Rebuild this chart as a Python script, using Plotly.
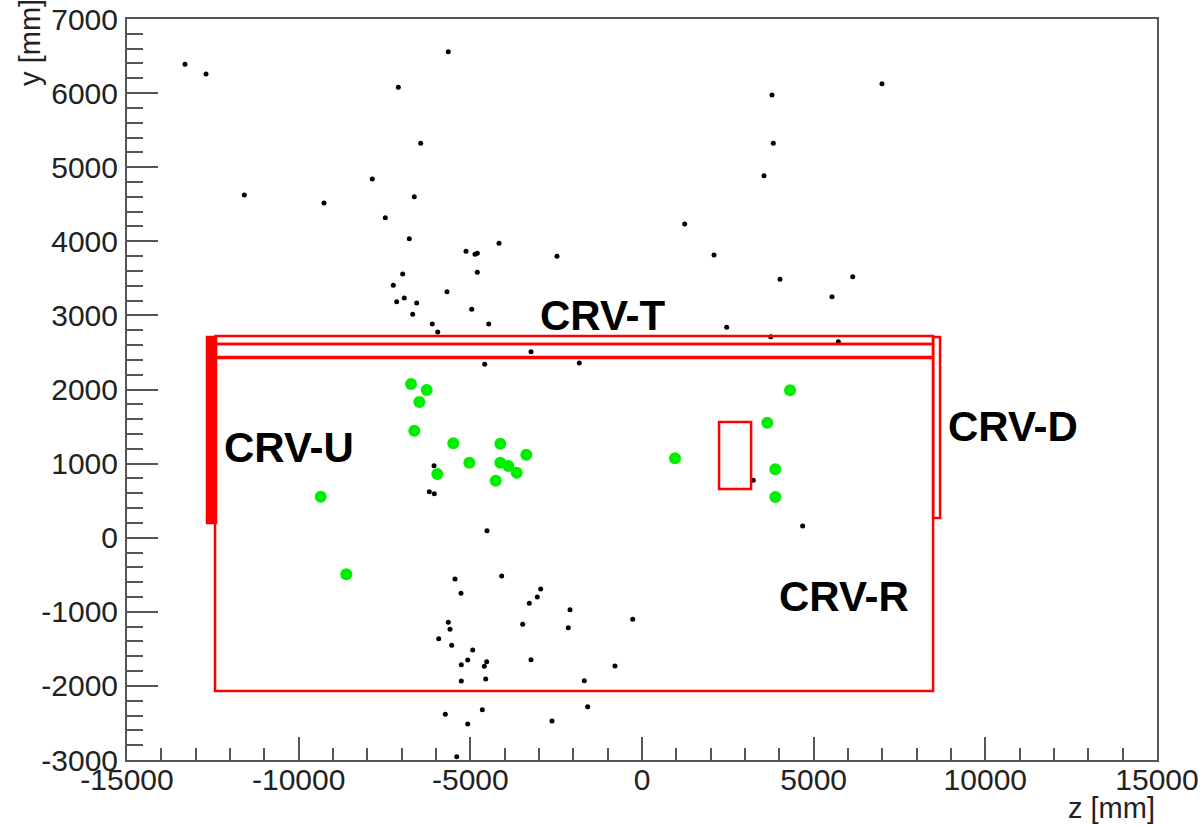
import plotly.graph_objects as go

# Black points: other hits (z, y) in mm
black_z = [-13311, -12699, -5642, -7098, -6446, -11583, -9262, -7855, -6632, -7477,
           -6778, -5126, -4864, -4797, -6970, -4797, 6990, 3786, 3824, 3553,
           1244, 2097, -4165, -2476, 4019, 6137, -7244, -7145, -6923, -6562,
           -6679, -5680, -4960, -6108, -5950, -4465, -4582, -6058, -6195, -6050,
           -4515, 5534, 2467, 3748, 5718, -3233, -1826, 3242, 4680,
           -5447, -5272, -5642, -5592, -5921, -5543, -4931, -5077, -5263, -4523,
           -4593, -5263, -4552, -5729, -4651, -5077, -5397, -4086, -2951, -3049,
           -3283, -2097, -3475, -2147, -271, -3233, -787, -1681, -1582, -2621]
black_y = [6389, 6258, 6559, 6078, 5323, 4625, 4517, 4841, 4602, 4319,
           4035, 3865, 3825, 3838, 3559, 3582, 6127, 5974, 5323, 4885,
           4234, 3815, 3973, 3798, 3487, 3522, 3406, 3185, 3235, 3167,
           3015, 3320, 3082, 2884, 2776, 2884, 2340, 972, 621, 594,
           95, 3252, 2839, 2713, 2645, 2510, 2358, 775, 158,
           -557, -750, -1142, -1236, -1363, -1452, -1515, -1650, -1714, -1673,
           -1735, -1934, -1907, -2383, -2321, -2514, -2955, -517, -692, -800,
           -885, -972, -1169, -1214, -1101, -1646, -1731, -1930, -2280, -2473]

# Green points: selected hits (z, y) in mm
green_z = [-6728, -6271, -6486, -6632, -5496, -5030, -5962, -9358, -8613, -4127,
           -3370, -4127, -3894, -3650, -4261, 961, 4311, 3649, 3883, 3883]
green_y = [2074, 1993, 1831, 1444, 1274, 1012, 860, 553, -494, 1269,
           1120, 1012, 968, 877, 769, 1072, 1989, 1552, 923, 549]

# Detector outlines: (z0, z1, y0, y1, filled)
sector_names = ["CRV-R", "CRV-T lower", "CRV-T upper", "CRV-U", "CRV-D", "box"]
sector_z0 = [-12437, -12420, -12420, -12670, 8478, 2244]
sector_z1 = [8478, 8478, 8478, -12408, 8682, 3177]
sector_y0 = [-2069, 2440, 2614, 198, 266, 657]
sector_y1 = [2425, 2614, 2722, 2709, 2709, 1561]
sector_fill = [False, False, False, True, False, False]

# Labels
label_text = ["CRV-T", "CRV-U", "CRV-D", "CRV-R"]
label_z = [-1149, -10281, 10794, 5871]
label_y = [2999, 1224, 1507, -787]

# Tick labels
x_ticks = [-15000, -10000, -5000, 0, 5000, 10000, 15000]
x_ticktext = ["-15000", "-10000", "-5000", "0", "5000", "10000", "15000"]
y_ticks = [-3000, -2000, -1000, 0, 1000, 2000, 3000, 4000, 5000, 6000, 7000]
y_ticktext = ["-3000", "-2000", "-1000", "0", "1000", "2000", "3000", "4000", "5000", "6000", "7000"]

fig = go.Figure()
fig.add_trace(go.Scatter(x=black_z, y=black_y, mode="markers",
                         marker=dict(color="black", size=5), showlegend=False))
fig.add_trace(go.Scatter(x=green_z, y=green_y, mode="markers",
                         marker=dict(color="#00ee00", size=12), showlegend=False))

for z0, z1, y0, y1, f in zip(sector_z0, sector_z1, sector_y0, sector_y1, sector_fill):
    fig.add_shape(type="rect", xref="x", yref="y", x0=z0, x1=z1, y0=y0, y1=y1,
                  line=dict(color="red", width=2.5),
                  fillcolor="red" if f else "rgba(0,0,0,0)")

for t, zx, yy in zip(label_text, label_z, label_y):
    fig.add_annotation(x=zx, y=yy, xref="x", yref="y", text="<b>%s</b>" % t,
                       showarrow=False, font=dict(family="Liberation Sans", size=42, color="black"))

axis_common = dict(showgrid=False, zeroline=False, showline=True, linecolor="#555555",
                   linewidth=2, mirror=True, ticks="inside", tickcolor="#555555", tickwidth=2,
                   automargin=False,
                   tickfont=dict(family="Liberation Sans", size=30, color="#222222"))

fig.update_xaxes(range=[-15000, 15000], tickvals=x_ticks, ticktext=x_ticktext, ticklen=23,
                 minor=dict(dtick=1000, tick0=0, ticks="inside", ticklen=12, tickcolor="#555555", tickwidth=2),
                 ticklabelstandoff=-8, **axis_common)
fig.update_yaxes(range=[-3000, 7000], tickvals=y_ticks, ticktext=y_ticktext, ticklen=31,
                 minor=dict(dtick=200, tick0=0, ticks="inside", ticklen=16, tickcolor="#555555", tickwidth=2),
                 ticklabelstandoff=1, **axis_common)

fig.add_annotation(text="z [mm]", xref="paper", yref="paper", x=1.0, y=-0.065,
                   xanchor="right", yanchor="middle", showarrow=False,
                   font=dict(family="Liberation Sans", size=29, color="#222222"))
fig.add_annotation(text="y [mm]", xref="paper", yref="paper", x=-0.094, y=0.968,
                   xanchor="center", yanchor="middle", textangle=-90, showarrow=False,
                   font=dict(family="Liberation Sans", size=29, color="#222222"))

fig.update_layout(width=1203, height=825, margin=dict(l=127, r=46, t=19, b=65, autoexpand=False),
                  plot_bgcolor="white", paper_bgcolor="white")

fig.write_html("out.html", config={"displayModeBar": False},
               post_script="document.body.style.margin='0px';")
